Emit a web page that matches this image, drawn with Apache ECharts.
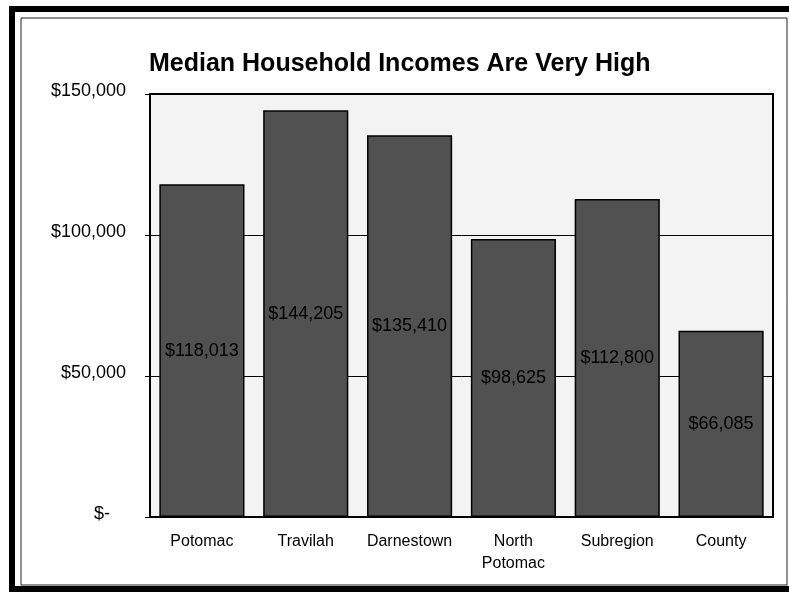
<!DOCTYPE html>
<html>
<head>
<meta charset="utf-8">
<script src="https://cdn.jsdelivr.net/npm/echarts@6/dist/echarts.min.js"></script>
<style>
html,body{margin:0;padding:0;background:#fff;}
#chart{width:789px;height:592px;}
</style>
</head>
<body>
<div id="chart"></div>
<script>
const chartTitle = 'Median Household Incomes Are Very High';
const categories = ['Potomac', 'Travilah', 'Darnestown', 'North\nPotomac', 'Subregion', 'County'];
const incomes = [118013, 144205, 135410, 98625, 112800, 66085];
const yTicks = [0, 50000, 100000, 150000];

const FONT = 'Arial, "Liberation Sans", sans-serif';
function money(v) {
  return '$' + v.toLocaleString('en-US');
}

const chart = echarts.init(document.getElementById('chart'));
chart.setOption({
  backgroundColor: '#ffffff',
  animation: false,
  title: {
    text: chartTitle,
    left: 144,
    top: 47,
    textStyle: {fontFamily: FONT, fontSize: 25, fontWeight: 'bold', color: '#000'}
  },
  grid: {left: 150, right: 16, top: 94, bottom: 75, show: true, backgroundColor: '#f3f3f3', borderColor: '#000', borderWidth: 2},
  xAxis: {
    type: 'category',
    data: categories,
    axisLine: {show: true, lineStyle: {color: '#000', width: 2}},
    axisTick: {show: false},
    axisLabel: {fontFamily: FONT, fontSize: 16, color: '#000', margin: 14, lineHeight: 22, interval: 0}
  },
  yAxis: {
    type: 'value',
    min: yTicks[0],
    max: yTicks[yTicks.length - 1],
    interval: yTicks[1] - yTicks[0],
    axisLine: {show: true, lineStyle: {color: '#000', width: 1}},
    axisTick: {show: true, length: 5, lineStyle: {color: '#000'}},
    splitLine: {show: true, lineStyle: {color: '#000', width: 1}},
    axisLabel: {
      fontFamily: FONT, fontSize: 18, color: '#000', margin: 24, padding: [0, 0, 6, 0],
      formatter: function (v) { return v === 0 ? '{z|$-}' : money(v); },
      rich: {z: {fontFamily: FONT, fontSize: 18, color: '#000', padding: [0, 16, 0, 0]}}
    }
  },
  series: [{
    type: 'bar',
    data: incomes,
    barCategoryGap: '18%',
    itemStyle: {color: '#515151', borderColor: '#000', borderWidth: 1.5},
    label: {
      show: true,
      position: 'inside',
      fontFamily: FONT,
      fontSize: 18,
      color: '#000',
      formatter: function (p) { return money(p.value); }
    }
  }],
  graphic: [
    {type: 'rect', shape: {x: 12, y: 9, width: 800, height: 580}, style: {fill: 'none', stroke: '#000', lineWidth: 6}, silent: true},
    {type: 'rect', shape: {x: 21, y: 18, width: 766, height: 567}, style: {fill: 'none', stroke: '#222', lineWidth: 1}, silent: true}
  ]
});
</script>
</body>
</html>
